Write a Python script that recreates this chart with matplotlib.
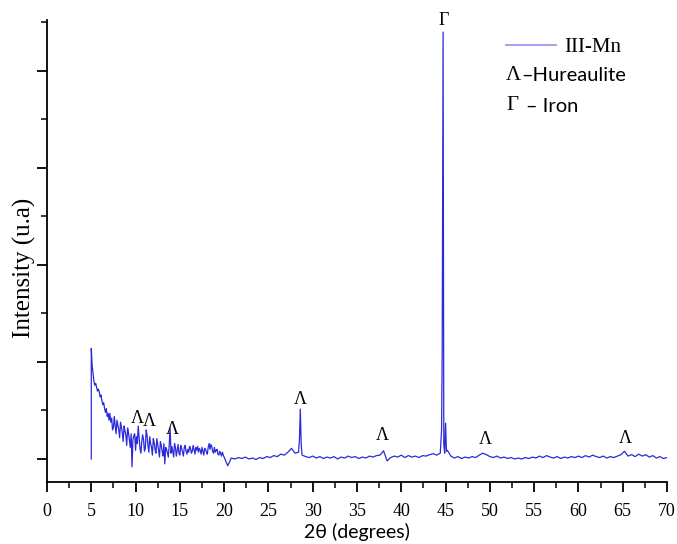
import numpy as np
import matplotlib
matplotlib.use("Agg")
import matplotlib.pyplot as plt
from matplotlib.lines import Line2D
from matplotlib.ticker import MultipleLocator

# ---------------- data ----------------
# initial vertical spike at the start of the scan
two_theta_start = [5.0, 5.0]
intensity_start = [0, 1140]

# noisy low-angle region, sampled every 0.1 deg from 5.1 to 20.0
two_theta_noisy = np.round(np.arange(5.1, 20.001, 0.1), 2)
intensity_noisy = [
    960, 880, 800, 760, 780, 740, 700, 720, 690, 640,
    660, 600, 560, 580, 520, 480, 520, 440, 470, 400,
    470, 380, 420, 300, 330, 440, 340, 260, 400, 350,
    300, 220, 380, 330, 270, 180, 340, 290, 250, 140,
    320, 270, 200, 120, 260, -80, 200, 240, 260, 90,
    230, 160, 340, 220, 110, 60, 180, 250, 200, 80,
    110, 300, 240, 140, 70, 230, 160, 120, 40, 210,
    170, 100, 60, 210, 150, 90, 20, 180, 140, 80,
    30, 160, -50, 120, 100, 60, 20, 150, 320, 60,
    130, 80, 20, 160, 120, 30, 90, 150, 60, 40,
    140, 110, 70, 30, 120, 140, 80, 50, 100, 70,
    130, 110, 60, 80, 140, 100, 50, 120, 90, 130,
    70, 110, 90, 50, 120, 80, 40, 110, 100, 70,
    50, 120, 160, 100, 150, 130, 80, 60, 120, 70,
    90, 100, 50, 40, 80, 60, 30, 70, 40, 20,
]

# baseline region, sampled every 0.4 deg from 20.4 to 70.0
two_theta_base = np.round(np.arange(20.4, 70.001, 0.4), 2)
intensity_base = [
    -70, 10, 0, 15, 5, 20, 0, 10, -5, 15,
    5, 25, 15, 35, 25, 50, 40, 70, 110, 60,
    70, 40, 25, 15, 30, 10, 25, 5, 20, 10,
    25, 0, 20, 10, 30, 15, 25, 5, 20, 10,
    30, 20, 35, 40, 85, -20, 15, 30, 20, 40,
    15, 35, 20, 30, 15, 35, 30, 45, 55, 40,
    60, 150, 90, 30, 10, 25, 5, 20, 10, 25,
    15, 40, 60, 45, 25, 15, 30, 10, 20, 5,
    15, 0, 10, 0, 15, 5, 20, 10, 30, 15,
    35, 20, 10, 25, 5, 20, 10, 25, 15, 30,
    15, 35, 20, 40, 25, 15, 30, 10, 25, 15,
    30, 45, 80, 30, 45, 25, 50, 30, 45, 20,
    35, 10, 25, 5, 15,
]

# sharp reflections
two_theta_peaks = [28.5, 28.6, 28.7, 44.55, 44.62, 44.72, 44.78, 44.9, 45.0, 45.1]
intensity_peaks = [200, 515, 150, 300, 1120, 4400, 900, 60, 370, 80]

# phase labels (Λ = hureaulite, Γ = iron)
hureaulite_pos = [(10.15, 330), (11.6, 300), (14.2, 220), (28.6, 530),
                  (37.9, 150), (49.5, 115), (65.3, 125)]
iron_pos = [(44.75, 4520)]

# ---------------- assemble ----------------
xr = np.concatenate([two_theta_noisy, two_theta_base, two_theta_peaks])
yr = np.concatenate([intensity_noisy, intensity_base, intensity_peaks])
order = np.argsort(xr, kind="stable")
x = np.concatenate([two_theta_start, xr[order]])
y = np.concatenate([intensity_start, yr[order]])

# ---------------- figure ----------------
fig = plt.figure(figsize=(6.77, 5.44), dpi=100)
ax = fig.add_axes([47 / 677, 62 / 544, 620 / 677, 462 / 544])

ax.plot(x, y, color="#2a2ad8", lw=0.9)

ax.set_xlim(0, 70)
ax.set_ylim(-237, 4525)
ax.spines["top"].set_visible(False)
ax.spines["right"].set_visible(False)
for s in ("left", "bottom"):
    ax.spines[s].set_linewidth(1.3)

ax.xaxis.set_major_locator(MultipleLocator(5))
ax.xaxis.set_minor_locator(MultipleLocator(2.5))
ax.yaxis.set_major_locator(MultipleLocator(1000))
ax.yaxis.set_minor_locator(MultipleLocator(500))
ax.tick_params(axis="both", which="major", direction="out", length=7, width=1.3)
ax.tick_params(axis="both", which="minor", direction="out", length=4, width=1.1)
ax.tick_params(axis="y", which="both", labelleft=False)
for lab in ax.get_xticklabels():
    lab.set_fontfamily("Liberation Serif")
    lab.set_fontsize(13)
ax.tick_params(axis="x", pad=8)

ax.set_xlabel("2θ (degrees)", family="Lato", fontsize=14)
ax.xaxis.set_label_coords(0.5, -(532 - 482) / 462)
ax.xaxis.label.set_va("center")
ax.set_ylabel("Intensity (u.a)", family="Liberation Serif", fontsize=18)
ax.yaxis.set_label_coords(-(47 - 24) / 620, (482 - 268) / 462)
ax.yaxis.label.set_va("center")

for (px, py) in hureaulite_pos:
    ax.text(px, py, "Λ", family="Liberation Serif", fontsize=13,
            ha="center", va="bottom")
for (px, py) in iron_pos:
    ax.text(px, py, "Γ", family="Liberation Serif", fontsize=13,
            ha="center", va="center", clip_on=False)

# legend
leg_handle = Line2D([], [], color="#9a9aee", lw=1.3)
ax.legend([leg_handle], ["III-Mn"], loc="center left",
          bbox_to_anchor=(506 / 677, 1 - 47 / 544),
          bbox_transform=fig.transFigure, frameon=False,
          handlelength=2.4, handletextpad=0.4, borderaxespad=0,
          borderpad=0, prop={"family": "Liberation Serif", "size": 15})

fig.text(506 / 677, 1 - 75 / 544, "Λ", family="Liberation Serif", fontsize=15,
         va="center", ha="left")
fig.text(521 / 677, 1 - 75 / 544, "–Hureaulite", family="Lato", fontsize=14.5,
         va="center", ha="left")
fig.text(506 / 677, 1 - 106 / 544, "Γ", family="Liberation Serif", fontsize=15,
         va="center", ha="left")
fig.text(526 / 677, 1 - 106 / 544, "– Iron", family="Lato", fontsize=14.5,
         va="center", ha="left")

fig.savefig("out.png", dpi=100)
